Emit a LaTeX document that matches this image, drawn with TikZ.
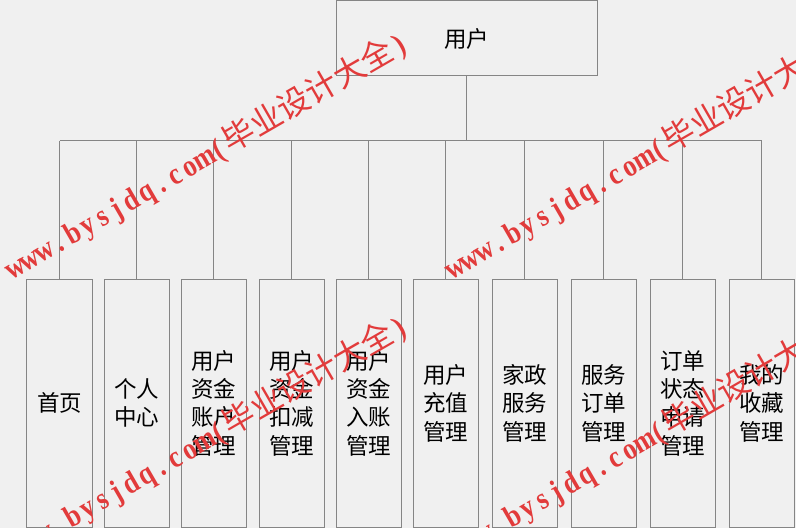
\documentclass[tikz,border=0pt]{standalone}
\usepackage{graphicx}
\usepackage{fontspec}
\newfontfamily\cjk{Noto Sans CJK SC}
\newfontfamily\wmlat{Liberation Serif}
\definecolor{bgc}{HTML}{F0F0F0}
\definecolor{linec}{HTML}{858585}
\definecolor{wmred}{HTML}{E23B3B}
\newcommand{\hcell}[1]{\makebox[16.8bp][c]{\scalebox{0.85}[1]{#1}}}
\newcommand{\wmtext}{{\wmlat\bfseries\fontsize{31bp}{31bp}\selectfont
\hcell{w}\hcell{w}\hcell{w}\hcell{.}\hcell{b}\hcell{y}\hcell{s}\hcell{j}\hcell{d}\hcell{q}\hcell{.}\hcell{c}\hcell{o}\hcell{m}\hcell{(}}{\cjk\fontsize{32bp}{32bp}\selectfont 毕业设计大全}{\wmlat\bfseries\fontsize{31bp}{31bp}\selectfont\hcell{)}}}
\tikzset{
  rootbox/.style={draw=linec, line width=1bp, rectangle, minimum width=261bp, minimum height=75bp, inner sep=0pt, font=\cjk\fontsize{22.5bp}{28.3bp}\selectfont, text=black},
  childbox/.style={draw=linec, line width=1bp, rectangle, minimum width=65bp, minimum height=247.5bp, inner sep=0pt, align=center, font=\cjk\fontsize{22.5bp}{28.3bp}\selectfont, text=black},
  conn/.style={draw=linec, line width=1bp},
  wmark/.style={text=wmred, rotate=30, anchor=base west, inner sep=0pt}
}
\begin{document}
\begin{tikzpicture}[x=1bp,y=-1bp]
\useasboundingbox[fill=bgc] (0,0) rectangle (796,528);
\node[rootbox] (root) at (466.5,38.5) {用户};
\coordinate (bus) at (466.5,141);
\node[childbox] (c1) at (59.5,403.25) {首页};
\node[childbox] (c2) at (136.5,403.25) {个人\\中心};
\node[childbox] (c3) at (213.5,403.25) {用户\\资金\\账户\\管理};
\node[childbox] (c4) at (291.5,403.25) {用户\\资金\\扣减\\管理};
\node[childbox] (c5) at (368.5,403.25) {用户\\资金\\入账\\管理};
\node[childbox] (c6) at (445.5,403.25) {用户\\充值\\管理};
\node[childbox] (c7) at (524.5,403.25) {家政\\服务\\管理};
\node[childbox] (c8) at (603.5,403.25) {服务\\订单\\管理};
\node[childbox] (c9) at (682.5,403.25) {订单\\状态\\申请\\管理};
\node[childbox] (c10) at (761.5,403.25) {我的\\收藏\\管理};
\draw[conn] (root.south) -- (bus);
\draw[conn] (c1.north |- bus) -- (c10.north |- bus);
\foreach \i in {1,...,10}{\draw[conn] (c\i.north) -- (c\i.north |- bus);}
\node[wmark] (wm1) at (12,280) {\wmtext};
\node[wmark] (wm2) at (452,280) {\wmtext};
\node[wmark] (wm3) at (12,563) {\wmtext};
\node[wmark] (wm4) at (452,563) {\wmtext};
\end{tikzpicture}
\end{document}
